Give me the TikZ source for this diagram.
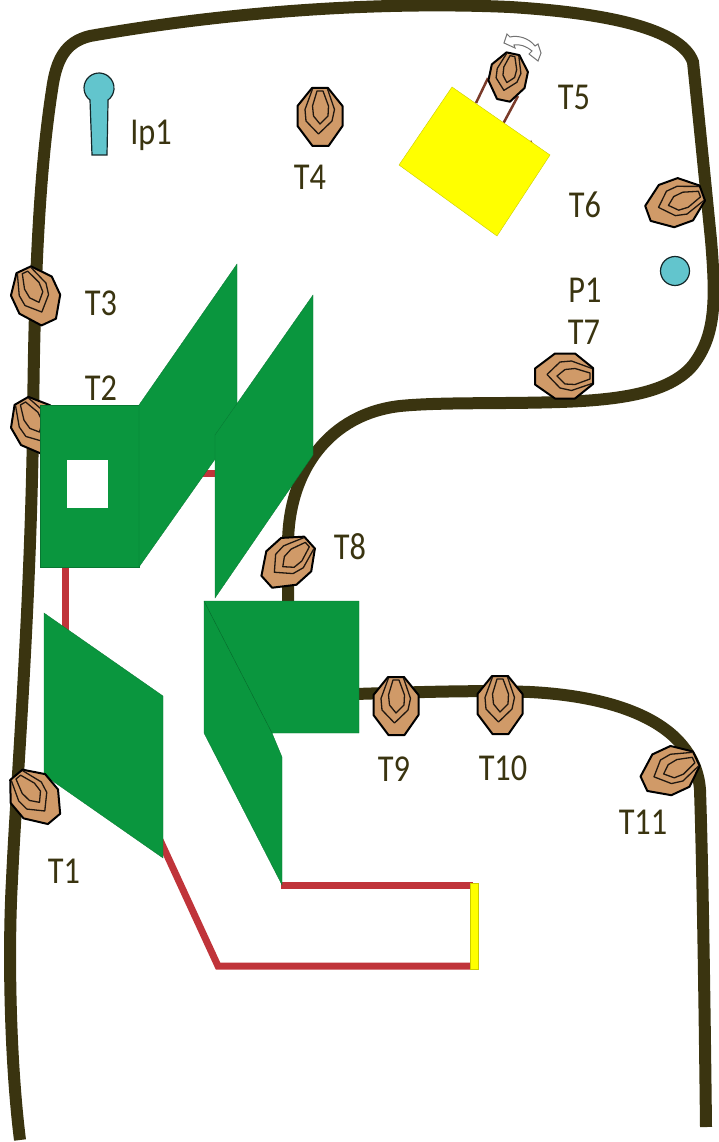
\documentclass[tikz,border=0pt]{standalone}
\usepackage{fontspec}
\setmainfont[FakeStretch=0.85]{Carlito}
\usepackage{tikz}
\usetikzlibrary{positioning,arrows.meta,calc}
\definecolor{wallcol}{HTML}{3A3410}
\definecolor{plantcol}{HTML}{0A963E}
\definecolor{pipecol}{HTML}{C0343A}
\definecolor{treecol}{HTML}{D09A68}
\definecolor{poolcol}{HTML}{62C5CD}
\definecolor{rodcol}{HTML}{7A3B2A}
\definecolor{boxcol}{HTML}{FFFF00}
\tikzset{
    wall/.style={draw=wallcol, line width=12pt, line cap=butt},
    plant/.style={fill=plantcol, draw=plantcol!80!black, line width=0.3pt},
    pipe/.style={draw=pipecol, line width=7pt},
    pool/.style={fill=poolcol, draw=black!80!poolcol, line width=1.2pt},
    tag/.style={text=wallcol, font=\fontsize{38}{38}\selectfont, inner sep=0pt},
    tree/.pic={
        \draw[fill=treecol, draw=black, line width=2pt, line join=round]
            (-8,-29) -- (8,-29) -- (22.5,-11) -- (22.5,9) -- (8.5,29) -- (-7.5,29) -- (-22.5,9) -- (-22.5,-11) -- cycle;
        \draw[black!85!treecol, line width=1.3pt, line join=round]
            (-7.5,-28) -- (-15,-7.5) -- (-14,4) -- (-1.5,17) -- (12,4) -- (14.5,-7.5) -- (7.5,-28);
        \draw[black!85!treecol, line width=1.3pt, line join=round]
            (-3,-26) -- (3,-26) -- (8.5,-11) -- (8,-1) -- (0,7) -- (-6.5,-1) -- (-7.5,-11) -- cycle;
    }
}
\begin{document}
\begin{tikzpicture}[x=1pt, y=-1pt]
    \useasboundingbox (0,0) rectangle (719,1142);
    % outer wall
    \draw[wall] (20,1140) .. controls (10,1060) and (8,950) .. (12,880)
        .. controls (16,790) and (30,620) .. (33,430)
        .. controls (34,300) and (38,180) .. (52,90)
        .. controls (56,60) and (65,42) .. (90,36)
        .. controls (250,8) and (400,2) .. (510,7)
        .. controls (590,12) and (680,25) .. (693,62)
        .. controls (698,110) and (704,170) .. (711,240)
        .. controls (716,300) and (716,335) .. (693,365)
        .. controls (670,393) and (620,400) .. (560,402)
        .. controls (500,404) and (440,402) .. (400,406)
        .. controls (330,414) and (288,470) .. (288,545) -- (288,605);
    \draw[wall] (355,694) .. controls (420,692) and (480,690) .. (530,692)
        .. controls (610,696) and (695,720) .. (700,790)
        .. controls (703,880) and (705,1040) .. (706,1127);
    % pipes
    \draw[pipe] (65,560) -- (65,640);
    \draw[pipe] (195,473) -- (225,473);
    \draw[pipe] (160,840) -- (218,966) -- (473,966);
    \draw[pipe] (281,885) -- (473,885);
    \fill[boxcol, draw=boxcol!80!black, line width=0.3pt] (470,883) rectangle (478,969);
    % trees under the plant
    \pic[rotate=30] (t2) at (36,426) {tree};
    % plant sections
    \fill[plant] (40,405) rectangle (139,567);
    \fill[white] (67,460) rectangle (108,508);
    \fill[plant] (139,405) -- (237,264) -- (237,428) -- (139,567) -- cycle;
    \fill[plant] (215,435) -- (313,295) -- (313,455) -- (215,598) -- cycle;
    \fill[plant] (44,613) -- (163,696) -- (163,858) -- (44,775) -- cycle;
    \fill[plant] (204,601) -- (359,601) -- (359,733) -- (272,733) -- (282,757) -- (282,885) -- (204,733) -- cycle;
    \draw[plantcol!70!black, line width=0.4pt] (204,601) -- (272,733);
    % machine
    \draw[rodcol, line width=2.5pt] (476,103) -- (488,78);
    \draw[rodcol, line width=2.5pt] (503,124) -- (518,96);
    \fill[rodcol] (529,144) -- (531,140) -- (534,146) -- cycle;
    \fill[boxcol, draw=boxcol!80!black, line width=0.4pt] (452,87) -- (550,155) -- (497,236) -- (399,165) -- cycle;
    \path[draw=black!55, fill=white, line width=1pt]
        (504,43) -- (507,34) -- (510,37) .. controls (518,35) and (529,38) .. (535,46)
        -- (538,44) -- (541,53) -- (538,61) -- (529,54) -- (532,51)
        .. controls (526,46) and (520,44) .. (514,45) -- (515,48) -- cycle;
    % pools
    \draw[pool] (92,155) -- (90,100) arc[start angle=127, end angle=413, radius=15] -- (107,155) -- cycle;
    \node[pool, circle, minimum size=29pt, inner sep=0pt] (p1) at (675,271) {};
    % trees
    \pic[rotate=40] (t1) at (35,797) {tree};
    \pic[rotate=25] (t3) at (36,296) {tree};
    \pic (t4) at (320,117) {tree};
    \pic[rotate=-12, scale=0.82] (t5) at (508,77) {tree};
    \pic[rotate=-70] (t6) at (675,203) {tree};
    \pic[rotate=-90] (t7) at (564,376) {tree};
    \pic[rotate=-48] (t8) at (288,562) {tree};
    \pic (t9) at (396,706) {tree};
    \pic (t10) at (500,705) {tree};
    \pic[rotate=-65] (t11) at (670,771) {tree};
    % labels
    \node[tag] (l1) at (151,135) {Ip1};
    \node[tag] (l2) at (310,177) {T4};
    \node[tag] (l3) at (574,97) {T5};
    \node[tag] (l4) at (585,205) {T6};
    \node[tag] (l5) at (585,290) {P1};
    \node[tag] (l6) at (584,332) {T7};
    \node[tag] (l7) at (101,303) {T3};
    \node[tag] (l8) at (101,388) {T2};
    \node[tag] (l9) at (350,547) {T8};
    \node[tag] (l10) at (394,769) {T9};
    \node[tag] (l11) at (503,768) {T10};
    \node[tag] (l12) at (643,822) {T11};
    \node[tag] (l13) at (64,871) {T1};
\end{tikzpicture}
\end{document}
